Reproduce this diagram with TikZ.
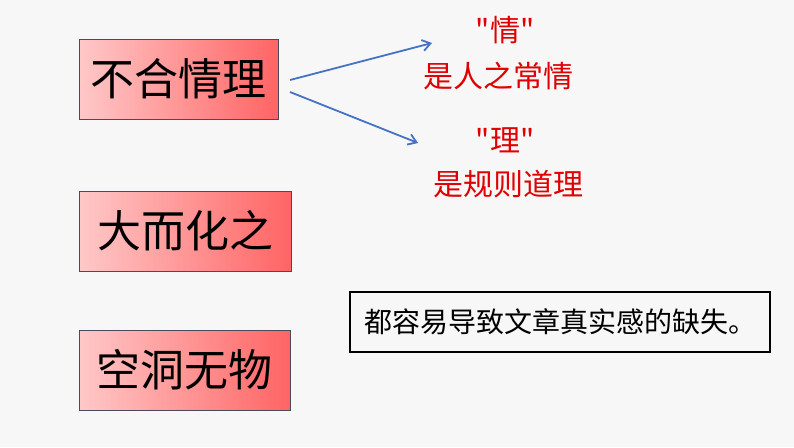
\documentclass[tikz,border=0pt]{standalone}
\usepackage{fontspec}
\newfontfamily\cjk{Noto Sans CJK SC}
\usetikzlibrary{arrows.meta}
\definecolor{bg}{HTML}{F7F7F7}
\definecolor{lp}{HTML}{FFC8C8}
\definecolor{rp}{HTML}{FF6464}
\definecolor{bd}{HTML}{4A4A5A}
\definecolor{ar}{HTML}{4472C4}
\definecolor{rt}{HTML}{E00000}
\tikzset{
  term/.style={draw=bd, line width=0.8pt, left color=lp, right color=rp, minimum height=80pt, inner sep=0pt, font=\cjk\fontsize{44}{48}\selectfont, text=black},
  red/.style={text=rt, font=\cjk\fontsize{30}{34}\selectfont, align=center},
  arr/.style={draw=ar, line width=1.8pt, -{Straight Barb[length=8pt,width=11pt]}}
}
\begin{document}
\begin{tikzpicture}[x=1pt,y=-1pt]
\fill[bg] (0,0) rectangle (794,447);
\useasboundingbox (0,0) rectangle (794,447);
\node[term, minimum width=199pt] (a) at (178.5,79) {不合情理};
\node[term, minimum width=212pt] (b) at (185,231) {大而化之};
\node[term, minimum width=211pt] (c) at (184.5,370) {空洞无物};
\node[red] (q) at (505,30) {"情"};
\node[red] (qa) at (498,76) {是人之常情};
\node[red] (l) at (505,140) {"理"};
\node[red] (la) at (508,184) {是规则道理};
\coordinate (s1) at (290,80);
\coordinate (s2) at (290,92);
\coordinate (e1) at (432,43);
\coordinate (e2) at (418,143);
\draw[arr] (s1) -- (e1);
\draw[arr] (s2) -- (e2);
\node[draw=black, line width=1.2pt, minimum width=420pt, minimum height=60pt, font=\cjk\fontsize{28}{32}\selectfont] (n) at (560,322) {都容易导致文章真实感的缺失。};
\end{tikzpicture}
\end{document}
